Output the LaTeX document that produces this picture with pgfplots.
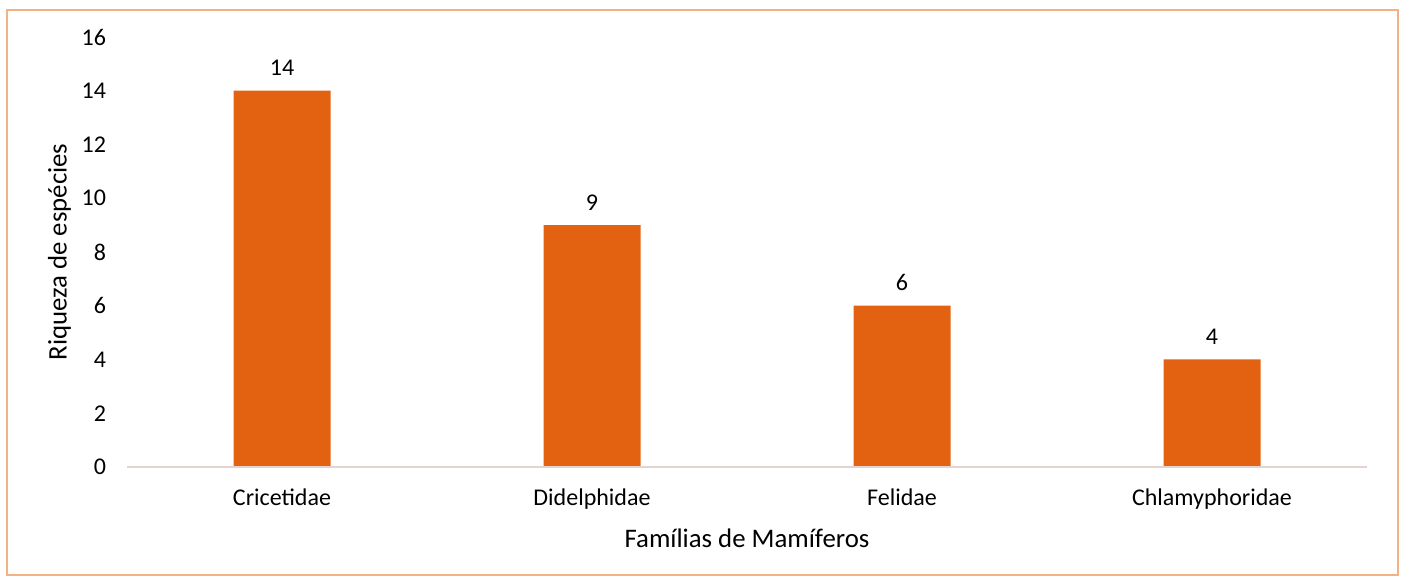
\documentclass[border=0pt]{standalone}
\usepackage{pgfplots}
\pgfplotsset{compat=1.18}
\usepackage{fontspec}
\setmainfont{Carlito}
\definecolor{barc}{HTML}{E36211}
\definecolor{bord}{HTML}{F4B183}
\definecolor{axc}{HTML}{E3D3D3}
\begin{document}
\begin{tikzpicture}[x=0.5pt,y=0.5pt]
\path[use as bounding box] (0,0) rectangle (1403,577);
\draw[bord, line width=1pt] (7,2) rectangle (1398,567);
\begin{axis}[
  at={(63.5pt,55pt)}, anchor=south west,
  scale only axis, width=620pt, height=215pt,
  xmin=-0.5, xmax=3.5, ymin=0, ymax=16,
  ytick={0,2,...,16},
  xtick=data,
  xticklabels={Cricetidae,Didelphidae,Felidae,Chlamyphoridae},
  axis line style={draw=none},
  axis x line*=bottom, axis y line*=left,
  major tick length=0pt,
  tick style={draw=none},
  /pgf/number format/assume math mode=true,
  ticklabel style={font=\fontsize{12}{14}\selectfont},
  yticklabel style={xshift=-7pt},
  xticklabel style={yshift=-7.5pt},
  xlabel={Famílias de Mamíferos},
  ylabel={Riqueza de espécies},
  label style={font=\fontsize{13.4}{15}\selectfont},
  xlabel style={yshift=-3pt},
  ylabel style={yshift=-1.5pt},
  ybar, bar width=48.5pt,
  nodes near coords,
  nodes near coords style={font=\fontsize{12}{14}\selectfont, yshift=4pt},
  clip=false,
]
\addplot[fill=barc, draw=none] coordinates {(0,14) (1,9) (2,6) (3,4)};
\draw[axc, line width=1pt] (axis cs:-0.5,0) -- (axis cs:3.5,0);
\end{axis}
\end{tikzpicture}
\end{document}
